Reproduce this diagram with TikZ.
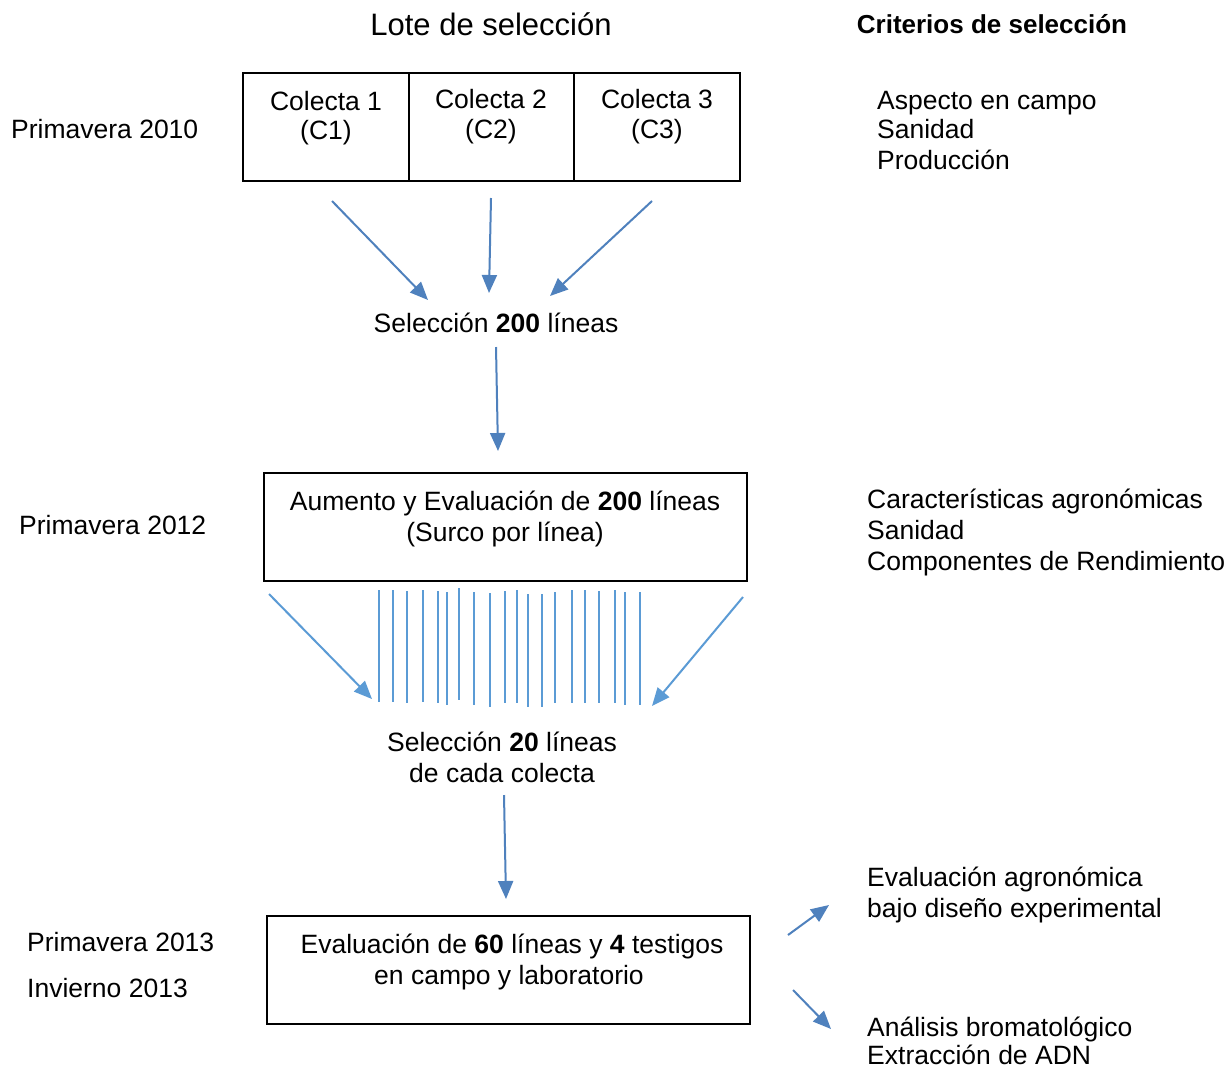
\documentclass[tikz,border=0pt]{standalone}
\usepackage{fontspec}
\setmainfont{Liberation Sans}
\usetikzlibrary{arrows.meta}
\definecolor{arrblue}{RGB}{79,129,189}
\definecolor{lineblue}{RGB}{91,155,213}
\begin{document}
\begin{tikzpicture}[x=1pt,y=-1pt,
  txt/.style={inner sep=0pt, font=\fontsize{26.5}{31}\selectfont},
  lbl/.style={txt, anchor=base west},
  ctr/.style={txt, anchor=base},
  boxcell/.style={draw=black, line width=2pt, rectangle, inner sep=0pt},
  arr/.style={draw=arrblue, line width=2pt, -{Triangle[length=18pt,width=15pt]}},
  arrl/.style={arr, draw=lineblue},
  vline/.style={draw=lineblue, line width=1.5pt}]
\useasboundingbox[fill=white] (0,0) rectangle (1230,1069);

% headings
\node[txt, anchor=base, font=\fontsize{31}{37}\selectfont] (title) at (491,35) {Lote de selección};
\node[txt, anchor=base, font=\fontsize{26}{31}\selectfont\bfseries] (crit) at (992,33) {Criterios de selección};

% first row
\node[boxcell, minimum width=166pt, minimum height=108pt] (c1) at (326,127) {};
\node[boxcell, minimum width=165pt, minimum height=108pt] (c2) at (491.5,126.5) {};
\node[boxcell, minimum width=166pt, minimum height=108pt] (c3) at (657,126.5) {};
\node[ctr] (c1a) at (326,110) {Colecta 1};
\node[ctr] (c1b) at (326,139) {(C1)};
\node[ctr] (c2a) at (491,108) {Colecta 2};
\node[ctr] (c2b) at (491,138) {(C2)};
\node[ctr] (c3a) at (657,108) {Colecta 3};
\node[ctr] (c3b) at (657,138) {(C3)};
\node[lbl] (p2010) at (11,138) {Primavera 2010};
\node[lbl] (k1a) at (877,109) {Aspecto en campo};
\node[lbl] (k1b) at (877,138) {Sanidad};
\node[lbl] (k1c) at (877,169) {Producción};

\coordinate (a1s) at (332,201); \coordinate (a1e) at (428,300);
\coordinate (a2s) at (491,198); \coordinate (a2e) at (489,293);
\coordinate (a3s) at (652,201); \coordinate (a3e) at (550,296);
\draw[arr] (a1s) -- (a1e);
\draw[arr] (a2s) -- (a2e);
\draw[arr] (a3s) -- (a3e);

\node[ctr] (sel200) at (496,332) {Selección \textbf{200} líneas};
\coordinate (a4s) at (496,347); \coordinate (a4e) at (498,451);
\draw[arr] (a4s) -- (a4e);

% second row
\node[boxcell, minimum width=483pt, minimum height=108pt] (b2) at (505.5,527) {};
\node[ctr] (b2a) at (505,510) {Aumento y Evaluación de \textbf{200} líneas};
\node[ctr] (b2b) at (505,541) {(Surco por línea)};
\node[lbl] (p2012) at (19,534) {Primavera 2012};
\node[lbl] (k2a) at (867,508) {Características agronómicas};
\node[lbl] (k2b) at (867,539) {Sanidad};
\node[lbl] (k2c) at (867,570) {Componentes de Rendimiento};

\foreach \x/\t/\b in {379/590/702, 393/590/702, 407/591/703, 423/590/702, 438/591/703,
  447/592/705, 459/588/700, 474/592/705, 490/593/707, 505/591/703, 517/590/703,
  528/594/707, 542/594/707, 555/592/703, 572/590/703, 585/590/703, 599/591/703,
  615/590/703, 625/592/705, 640/592/705}
  \draw[vline] (\x,\t) -- (\x,\b);

\coordinate (a5s) at (269,594); \coordinate (a5e) at (372,699);
\coordinate (a6s) at (743,597); \coordinate (a6e) at (652,706);
\draw[arrl] (a5s) -- (a5e);
\draw[arrl] (a6s) -- (a6e);

\node[ctr] (sel20a) at (502,751) {Selección \textbf{20} líneas};
\node[ctr] (sel20b) at (502,782) {de cada colecta};
\coordinate (a7s) at (504,795); \coordinate (a7e) at (506,899);
\draw[arr] (a7s) -- (a7e);

% third row
\node[boxcell, minimum width=483pt, minimum height=108pt] (b3) at (508.5,970) {};
\node[ctr] (b3a) at (512,953) {Evaluación de \textbf{60} líneas y \textbf{4} testigos};
\node[ctr] (b3b) at (509,984) {en campo y laboratorio};
\node[lbl] (p2013) at (27,951) {Primavera 2013};
\node[lbl] (i2013) at (27,997) {Invierno 2013};

\coordinate (a8s) at (788,935); \coordinate (a8e) at (829,905);
\coordinate (a9s) at (793,990); \coordinate (a9e) at (831,1029);
\draw[arr] (a8s) -- (a8e);
\draw[arr] (a9s) -- (a9e);

\node[lbl] (k3a) at (867,886) {Evaluación agronómica};
\node[lbl] (k3b) at (867,917) {bajo diseño experimental};
\node[lbl] (k3c) at (867,1036) {Análisis bromatológico};
\node[lbl] (k3d) at (867,1064) {Extracción de ADN};
\end{tikzpicture}
\end{document}
